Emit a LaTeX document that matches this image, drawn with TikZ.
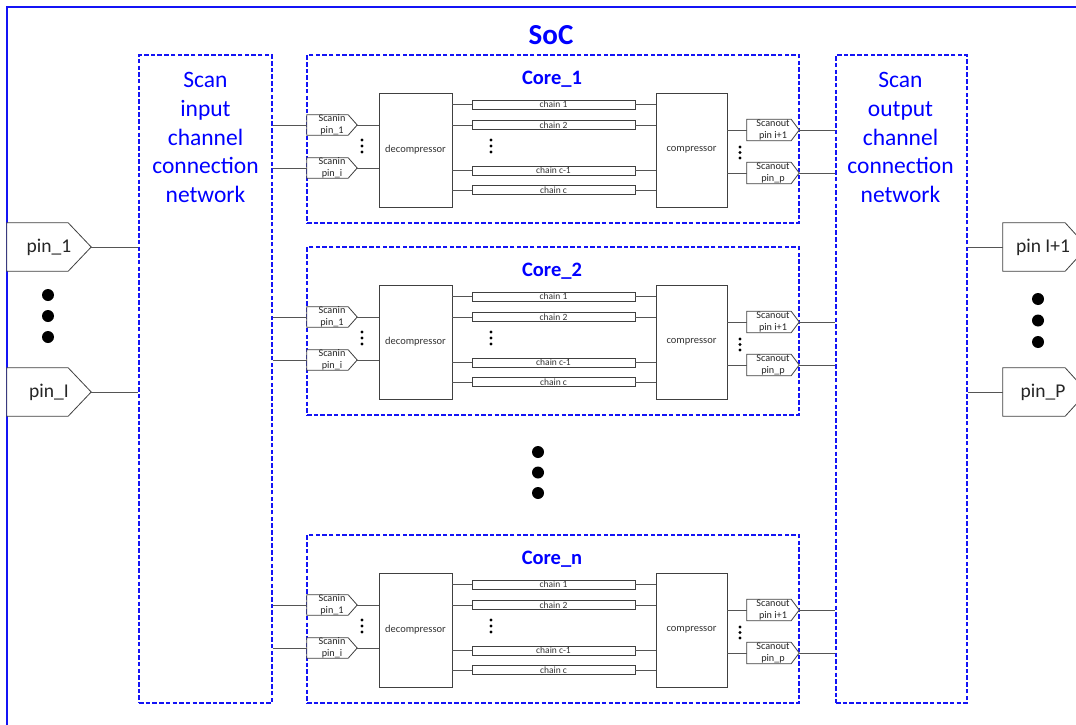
\documentclass[tikz,border=0pt]{standalone}
\usepackage{fontspec}
\setmainfont{Carlito}
\definecolor{socblue}{RGB}{20,20,245}
\definecolor{txtblue}{RGB}{0,0,255}
\definecolor{wiregray}{RGB}{85,85,85}
\definecolor{edgegray}{RGB}{64,64,64}

\tikzset{
  wire/.style={draw=wiregray, line width=0.9pt},
  netbox/.style={draw=socblue, dash pattern=on 4.5pt off 2.2pt, line width=1.05pt,
    inner sep=0pt, rectangle},
  unitbox/.style={draw=edgegray, line width=0.8pt, fill=white, inner sep=0pt, rectangle,
    font=\fontsize{10.5}{12}\selectfont, text=black!80},
  chainbox/.style={draw=edgegray, line width=0.7pt, fill=white, inner sep=0pt, rectangle,
    minimum width=163pt, minimum height=9pt, font=\fontsize{9.5}{9.5}\selectfont, text=black!80},
  pinbox/.style={inner sep=0pt, rectangle, align=center, text=black!85},
  smallpin/.style={pinbox, minimum width=50pt, minimum height=20pt,
    font=\fontsize{10.2}{12.5}\selectfont},
  bigpin/.style={pinbox, minimum width=84pt, minimum height=48pt,
    font=\fontsize{19.5}{22}\selectfont},
  outline/.style={draw=edgegray, line width=0.8pt, fill=white},
  bluetitle/.style={text=txtblue, font=\bfseries\fontsize{20.5}{24}\selectfont, inner sep=0pt},
  nettext/.style={text=txtblue, align=center, font=\fontsize{23.5}{28.75}\selectfont, inner sep=0pt},
}

% pentagon outline around a pin node, #2 = depth of the pointed end
\newcommand\pinoutline[2]{%
  \path[outline] (#1.north west) -- ([xshift=-#2pt]#1.north east) -- (#1.east)
    -- ([xshift=-#2pt]#1.south east) -- (#1.south west) -- cycle;}

% three stacked dots
\newcommand\dotstack[4]{% x, y1, step, radius
  \foreach \k in {0,1,2}{\fill (#1,#2+\k*#3) circle (#4pt);}}

% one core with decompressor, scan chains and compressor
% #1 name, #2 vertical offset, #3 title
\newcommand\corepanel[3]{%
\begin{scope}[shift={(0,#2)}]
  \node[netbox, minimum width=492pt, minimum height=168pt] (#1-box) at (553,139) {};
  \node[bluetitle] (#1-title) at (552,79) {#3};
  \node[unitbox, minimum width=73pt, minimum height=114pt] (#1-dec) at (415.5,150) {decompressor};
  \node[unitbox, minimum width=71pt, minimum height=114pt] (#1-comp) at (691.5,150) {compressor};
  \node[chainbox] (#1-ch1) at (553.5,104.5) {chain 1};
  \node[chainbox] (#1-ch2) at (553.5,125) {chain 2};
  \node[chainbox] (#1-ch3) at (553.5,170.5) {chain c-1};
  \node[chainbox] (#1-ch4) at (553.5,190) {chain c};
  \node[smallpin] (#1-si1) at (332,125) {};
  \node[smallpin] (#1-si2) at (332,168) {};
  \node[smallpin, minimum width=52pt, minimum height=21pt] (#1-so1) at (773,130) {};
  \node[smallpin, minimum width=52pt, minimum height=21pt] (#1-so2) at (773,173) {};
  \pinoutline{#1-si1}{9}\pinoutline{#1-si2}{9}
  \pinoutline{#1-so1}{8}\pinoutline{#1-so2}{8}
  \node[smallpin] (#1-si1t) at (#1-si1) {Scanin\\pin\_1};
  \node[smallpin] (#1-si2t) at (#1-si2) {Scanin\\pin\_i};
  \node[smallpin, minimum width=52pt] (#1-so1t) at (#1-so1) {Scanout\\pin i+1};
  \node[smallpin, minimum width=52pt] (#1-so2t) at (#1-so2) {Scanout\\pin\_p};
  \foreach \c in {ch1,ch2,ch3,ch4}{
    \draw[wire] (#1-\c.west -| #1-dec.east) -- (#1-\c.west);
    \draw[wire] (#1-\c.east) -- (#1-\c.east -| #1-comp.west);}
  \foreach \s in {si1,si2}{
    \draw[wire] (#1-\s.west -| innet.east) -- (#1-\s.west);
    \draw[wire] (#1-\s.east) -- (#1-\s.east -| #1-dec.west);}
  \foreach \s in {so1,so2}{
    \draw[wire] (#1-\s.west -| #1-comp.east) -- (#1-\s.west);
    \draw[wire] (#1-\s.east) -- (#1-\s.east -| outnet.west);}
  \dotstack{362}{140}{6}{1.6}
  \dotstack{491}{140}{6}{1.6}
  \dotstack{740}{147}{5.5}{1.6}
\end{scope}}

\begin{document}
\begin{tikzpicture}[x=1pt, y=-1pt]
\useasboundingbox (0,0) rectangle (1076,725);
\fill[white] (0,0) rectangle (1076,725);

% SoC outline and title
\draw[socblue, line width=1.4pt] (7,730) -- (7,7) -- (1085,7);
\node[text=txtblue, font=\bfseries\fontsize{29}{32}\selectfont, inner sep=0pt] (soc) at (551,35) {SoC};

% scan channel connection networks
\node[netbox, minimum width=133pt, minimum height=648pt] (innet) at (205.5,379) {};
\node[netbox, minimum width=131pt, minimum height=648pt] (outnet) at (901.5,379) {};
\node[nettext] (innet-text) at (205.5,137.5) {Scan\\input\\channel\\connection\\network};
\node[nettext] (outnet-text) at (900.5,137.5) {Scan\\output\\channel\\connection\\network};

% chip pins
\node[bigpin] (p1) at (49,247) {};
\node[bigpin] (pI) at (49,392) {};
\node[bigpin] (q1) at (1045,247) {};
\node[bigpin] (qP) at (1045,392) {};
\pinoutline{p1}{23}\pinoutline{pI}{23}\pinoutline{q1}{22}\pinoutline{qP}{22}
\node[bigpin] (p1t) at (p1) {pin\_1};
\node[bigpin] (pIt) at (pI) {pin\_I};
\node[bigpin] (q1t) at (1043,247) {pin I+1};
\node[bigpin] (qPt) at (1043,392) {pin\_P};
\draw[wire] (p1.east) -- (p1.east -| innet.west);
\draw[wire] (pI.east) -- (pI.east -| innet.west);
\draw[wire] (q1.west -| outnet.east) -- (q1.west);
\draw[wire] (qP.west -| outnet.east) -- (qP.west);

% cores
\corepanel{c1}{0}{Core\_1}
\corepanel{c2}{192}{Core\_2}
\corepanel{cn}{480}{Core\_n}

% large ellipsis dots
\dotstack{48}{295}{21}{6}
\dotstack{1038}{299}{21.5}{6}
\dotstack{538}{452}{20.5}{6}
\end{tikzpicture}
\end{document}
